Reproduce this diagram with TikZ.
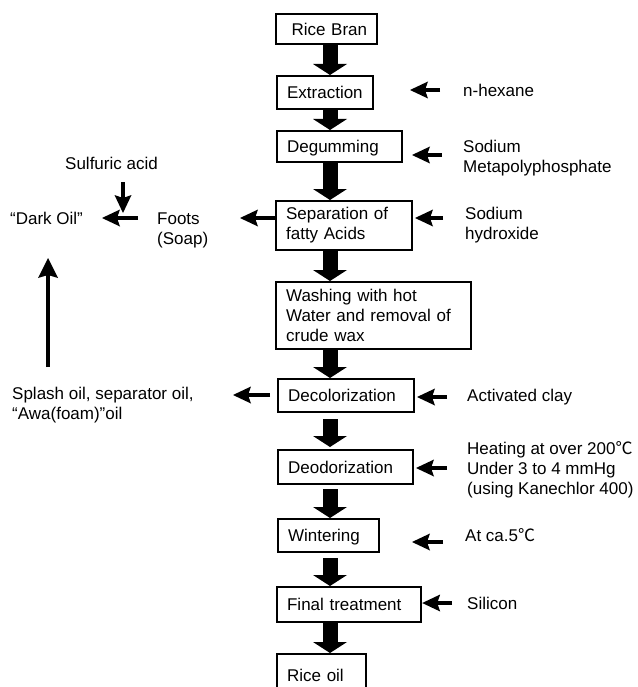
\documentclass[tikz,border=0pt]{standalone}
\usepackage{fontspec}
\setmainfont{Liberation Sans}
\newfontfamily\cjkfont{Noto Sans CJK JP}
\usetikzlibrary{arrows.meta}
\newcommand\degC{{\cjkfont ℃}}
\begin{document}
\begin{tikzpicture}[x=1pt,y=-1pt,
  every node/.style={font=\fontsize{17}{20}\selectfont},
  box/.style={draw, line width=2.2pt, anchor=north west, inner xsep=10pt, inner ysep=0pt, align=left},
  one/.style={text height=12.2pt, text depth=0pt},
  lbl/.style={anchor=west, inner sep=0pt, align=left},
  bigarrow/.style={line width=15pt, -{Triangle[width=34pt,length=11pt,line width=0pt]}},
  sidearrow/.style={line width=4pt, -{Stealth[width=17pt,length=18pt,inset=3pt,line width=0pt]}},
  longarrow/.style={line width=4.5pt, -{Stealth[width=20pt,length=20pt,inset=3pt,line width=0pt]}},
]
\useasboundingbox (0,0) rectangle (637,687);
\clip (0,0) rectangle (637,687);

% process boxes
\node[box, one, text width=81pt, minimum height=30pt, align=right] (rb) at (275,13) {Rice Bran};
\node[box, one, text width=76pt, minimum height=33pt] (ex) at (276,75) {Extraction};
\node[box, one, text width=105pt, minimum height=31pt] (dg) at (276,130) {Degumming};
\node[box, text width=116pt, minimum height=49pt] (sp) at (275,200) {Separation of\\fatty Acids};
\node[box, text width=175pt, minimum height=67pt] (wa) at (275,281) {Washing with hot\\Water and removal of\\crude wax};
\node[box, one, text width=116pt, minimum height=33pt] (dc) at (277,378) {Decolorization};
\node[box, one, text width=115pt, minimum height=34pt] (dd) at (277,449) {Deodorization};
\node[box, one, text width=81pt, minimum height=33pt] (wi) at (277,518) {Wintering};
\node[box, one, text width=124pt, minimum height=35pt] (ft) at (276,586) {Final treatment};
\node[box, one, text width=69pt, minimum height=43pt] (ro) at (276,653) {Rice oil};

% main flow arrows
\coordinate (ax) at (330,0);
\draw[bigarrow] (rb.south -| ax) -- (ex.north -| ax);
\draw[bigarrow] (ex.south -| ax) -- (dg.north -| ax);
\draw[bigarrow] (dg.south -| ax) -- (sp.north -| ax);
\draw[bigarrow] (sp.south -| ax) -- (wa.north -| ax);
\draw[bigarrow] (wa.south -| ax) -- (dc.north -| ax);
\draw[bigarrow, shorten <=6pt, shorten >=2pt] (dc.south -| ax) -- (dd.north -| ax);
\draw[bigarrow, shorten <=4pt] (dd.south -| ax) -- (wi.north -| ax);
\draw[bigarrow, shorten <=5pt] (wi.south -| ax) -- (ft.north -| ax);
\draw[bigarrow] (ft.south -| ax) -- (ro.north -| ax);

% right-hand inputs
\node[lbl, one] (nhex) at (463,90) {n-hexane};
\node[lbl] (smp) at (463,158) {Sodium\\Metapolyphosphate};
\node[lbl] (snh) at (465,225) {Sodium\\hydroxide};
\node[lbl, one] (acl) at (467,395) {Activated clay};
\node[lbl] (heat) at (467,470) {Heating at over 200\degC\\Under 3 to 4 mmHg\\(using Kanechlor 400)};
\node[lbl, one] (atca) at (465,535) {At ca.5\degC};
\node[lbl, one] (sil) at (467,603) {Silicon};

\coordinate (a1s) at (440,90);  \coordinate (a1e) at (410,90);
\coordinate (a2s) at (442,155); \coordinate (a2e) at (412,155);
\coordinate (a3s) at (443,218); \coordinate (a3e) at (415,218);
\coordinate (a4s) at (447,397); \coordinate (a4e) at (417,397);
\coordinate (a5s) at (447,468); \coordinate (a5e) at (416,468);
\coordinate (a6s) at (443,542); \coordinate (a6e) at (412,542);
\coordinate (a7s) at (452,603);
\draw[sidearrow] (a1s) -- (a1e);
\draw[sidearrow] (a2s) -- (a2e);
\draw[sidearrow] (a3s) -- (a3e);
\draw[sidearrow] (a4s) -- (a4e);
\draw[sidearrow] (a5s) -- (a5e);
\draw[sidearrow] (a6s) -- (a6e);
\draw[sidearrow] (a7s) -- (ft.east |- a7s);

% left-hand outputs
\node[lbl, one] (sulf) at (65,163) {Sulfuric acid};
\node[lbl, one] (dark) at (10,218) {“Dark Oil”};
\node[lbl] (foots) at (157,230) {Foots\\(Soap)};
\node[lbl] (splash) at (12,405) {Splash oil, separator oil,\\“Awa(foam)”oil};

\coordinate (l1e) at (240,218);
\coordinate (l2s) at (270,395); \coordinate (l2e) at (233,395);
\coordinate (d1s) at (138,218); \coordinate (d1e) at (102,218);
\coordinate (s1s) at (123,182); \coordinate (s1e) at (123,213);
\coordinate (v1s) at (48,367);  \coordinate (v1e) at (48,258);
\draw[sidearrow] (sp.west |- l1e) -- (l1e);
\draw[sidearrow] (l2s) -- (l2e);
\draw[sidearrow] (d1s) -- (d1e);
\draw[sidearrow] (s1s) -- (s1e);
\draw[longarrow] (v1s) -- (v1e);
\end{tikzpicture}
\end{document}
